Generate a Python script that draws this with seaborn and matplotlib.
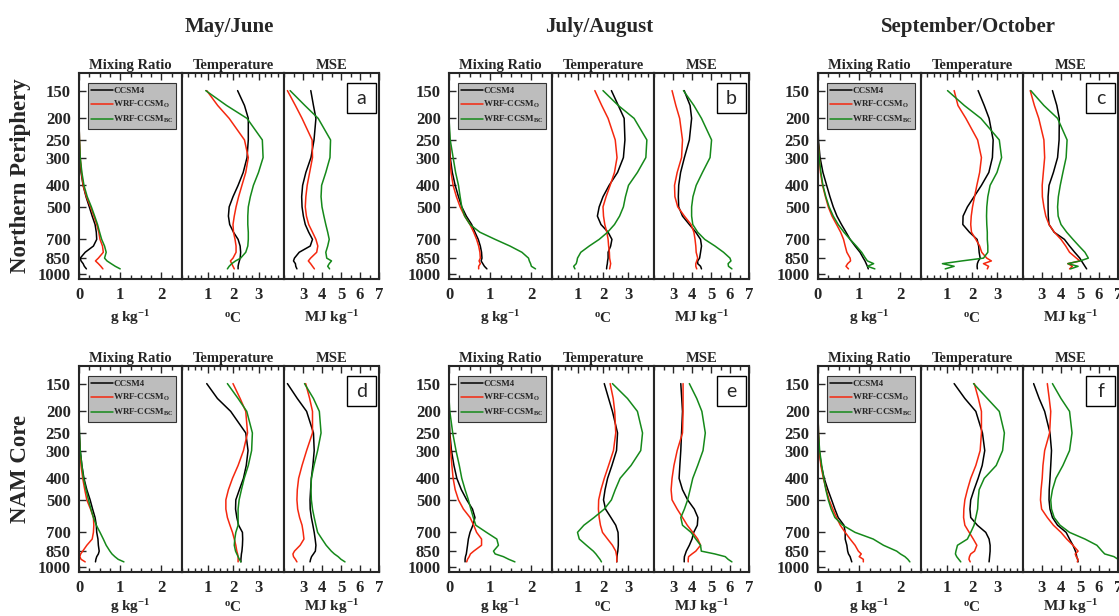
import matplotlib
matplotlib.use('Agg')
import matplotlib.pyplot as plt
import seaborn as sns
from matplotlib.patches import Rectangle
from matplotlib.ticker import MultipleLocator, NullLocator

sns.set_style('ticks')
plt.rcParams['font.family'] = ['Liberation Serif', 'DejaVu Serif']
plt.rcParams['font.weight'] = 'bold'
plt.rcParams['mathtext.fontset'] = 'custom'
plt.rcParams['mathtext.rm'] = 'Liberation Serif:bold'
plt.rcParams['mathtext.bf'] = 'Liberation Serif:bold'
plt.rcParams['mathtext.it'] = 'Liberation Serif:bold'
plt.rcParams['mathtext.default'] = 'rm'

# --- datos (niveles de presion, hPa) ---
LEV = [150, 175, 200, 250, 300, 350, 400, 450, 500, 550, 600, 650, 700, 750, 800, 850, 875, 900, 925, 950]
PTICKS = [150, 200, 250, 300, 400, 500, 700, 850, 1000]
SERIES = ['CCSM4', 'WRF-CCSM$_{O}$', 'WRF-CCSM$_{BC}$']
SEASONS = ['May/June', 'July/August', 'September/October']
REGIONS = ['Northern Periphery', 'NAM Core']
LETTERS = ['a', 'b', 'c', 'd', 'e', 'f']

# cada lista: [CCSM4, WRF-CCSM_O, WRF-CCSM_BC]
a_mix = [[0, 0, 0, 0.01, 0.02, 0.05, 0.1, 0.17, 0.25, 0.32, 0.39, 0.42, 0.43, 0.35, 0.15, 0.03, 0.05, 0.1, 0.13, 0.18],
         [0, 0, 0, 0.01, 0.03, 0.06, 0.1, 0.18, 0.28, 0.36, 0.43, 0.48, 0.51, 0.57, 0.59, 0.47, 0.40, 0.47, 0.53, 0.58],
         [0, 0, 0, 0.01, 0.03, 0.07, 0.12, 0.2, 0.3, 0.38, 0.45, 0.5, 0.55, 0.62, 0.66, 0.62, 0.68, 0.78, 0.88, 1.0]]
a_tmp = [[2.18, 2.45, 2.6, 2.6, 2.55, 2.4, 2.2, 2.0, 1.85, 1.82, 1.87, 2.02, 2.2, 2.28, 2.3, 2.28, 2.25, 2.22, 2.2, 2.2],
         [0.97, 1.4, 1.85, 2.45, 2.6, 2.5, 2.35, 2.22, 2.12, 2.05, 2.0, 2.02, 2.08, 2.12, 2.12, 2.0, 1.9, 1.95, 2.0, 2.05],
         [0.93, 1.75, 2.55, 3.15, 3.18, 3.0, 2.8, 2.68, 2.6, 2.58, 2.58, 2.6, 2.6, 2.58, 2.5, 2.3, 2.1, 1.95, 1.85, 1.78]]
a_mse = [[3.41, 3.55, 3.68, 3.58, 3.42, 3.15, 2.98, 2.93, 2.95, 3.02, 3.12, 3.3, 3.5, 3.38, 2.8, 2.55, 2.5, 2.6, 2.62, 2.68],
         [2.18, 2.6, 2.95, 3.48, 3.5, 3.35, 3.22, 3.15, 3.12, 3.18, 3.3, 3.5, 3.68, 3.78, 3.72, 3.4, 3.28, 3.4, 3.5, 3.6],
         [2.32, 3.1, 3.8, 4.45, 4.42, 4.2, 3.98, 3.95, 4.0, 4.1, 4.2, 4.3, 4.38, 4.3, 4.2, 4.25, 4.5, 4.38, 4.3, 4.4]]

b_mix = [[0, 0, 0, 0.01, 0.03, 0.08, 0.15, 0.23, 0.31, 0.42, 0.55, 0.63, 0.71, 0.76, 0.79, 0.8, 0.78, 0.82, 0.86, 0.92],
         [0, 0, 0, 0.01, 0.02, 0.05, 0.1, 0.18, 0.27, 0.38, 0.51, 0.6, 0.67, 0.72, 0.75, 0.76, 0.73, 0.76, 0.72, 0.72],
         [0, 0, 0, 0.03, 0.1, 0.16, 0.23, 0.27, 0.31, 0.38, 0.51, 0.75, 1.12, 1.48, 1.77, 1.93, 1.95, 1.98, 2.0, 2.1]]
b_tmp = [[2.33, 2.6, 2.83, 2.86, 2.8, 2.57, 2.24, 2.0, 1.85, 1.78, 1.92, 2.2, 2.35, 2.3, 2.2, 2.2, 2.18, 2.17, 2.15, 2.14],
         [1.68, 1.95, 2.2, 2.48, 2.55, 2.45, 2.28, 2.12, 2.0, 2.02, 2.07, 2.15, 2.2, 2.22, 2.25, 2.26, 2.28, 2.3, 2.28, 2.26],
         [2.0, 2.6, 3.22, 3.72, 3.68, 3.35, 3.0, 2.88, 2.8, 2.65, 2.45, 2.18, 1.85, 1.46, 1.13, 1.0, 0.98, 0.95, 0.85, 0.9]]
b_mse = [[3.59, 3.9, 3.98, 3.86, 3.6, 3.4, 3.3, 3.28, 3.3, 3.5, 3.86, 4.2, 4.45, 4.5, 4.45, 4.4, 4.3, 4.3, 4.45, 4.5],
         [2.95, 3.15, 3.35, 3.5, 3.45, 3.22, 3.08, 3.1, 3.25, 3.6, 3.95, 4.1, 4.16, 4.2, 4.22, 4.3, 4.25, 4.2, 4.2, 4.25],
         [3.55, 4.1, 4.5, 5.03, 4.95, 4.55, 4.22, 4.05, 3.98, 3.98, 4.04, 4.3, 4.67, 5.21, 5.66, 6.0, 6.05, 5.9, 5.92, 6.1]]

c_mix = [[0, 0, 0, 0.01, 0.05, 0.12, 0.21, 0.29, 0.37, 0.46, 0.57, 0.68, 0.78, 0.9, 1.02, 1.1, 1.14, 1.17, 1.2, 1.22],
         [0, 0, 0, 0, 0.03, 0.06, 0.11, 0.18, 0.25, 0.34, 0.45, 0.55, 0.62, 0.66, 0.7, 0.78, 0.79, 0.72, 0.68, 0.74],
         [0, 0, 0, 0, 0.03, 0.07, 0.12, 0.19, 0.27, 0.37, 0.49, 0.63, 0.78, 0.93, 1.06, 1.15, 1.2, 1.35, 1.2, 1.38]]
c_tmp = [[2.24, 2.48, 2.67, 2.83, 2.8, 2.66, 2.37, 2.08, 1.82, 1.65, 1.64, 1.9, 2.2, 2.26, 2.28, 2.32, 2.25, 2.21, 2.2, 2.21],
         [1.3, 1.45, 1.76, 2.22, 2.37, 2.3, 2.19, 2.1, 2.02, 1.97, 1.95, 1.98, 2.15, 2.3, 2.38, 2.58, 2.76, 2.45, 2.65, 2.6],
         [1.04, 1.7, 2.35, 3.07, 3.16, 2.98, 2.71, 2.62, 2.58, 2.57, 2.58, 2.6, 2.6, 2.62, 2.62, 2.45, 1.6, 0.84, 1.3, 0.95]]
c_mse = [[3.55, 3.78, 3.91, 3.9, 3.82, 3.6, 3.37, 3.32, 3.32, 3.33, 3.37, 3.64, 4.18, 4.45, 4.72, 4.99, 5.08, 5.17, 5.26, 5.35],
         [2.38, 2.6, 2.83, 3.1, 3.14, 3.07, 3.01, 3.02, 3.1, 3.2, 3.37, 3.65, 4.0, 4.25, 4.45, 4.81, 5.0, 4.36, 4.6, 4.45],
         [2.41, 3.1, 3.82, 4.32, 4.27, 4.1, 3.96, 3.86, 3.82, 3.85, 4.0, 4.3, 4.63, 4.95, 5.26, 5.44, 5.0, 4.36, 4.9, 4.5]]

d_mix = [[0, 0, 0, 0.01, 0.03, 0.07, 0.12, 0.19, 0.27, 0.33, 0.39, 0.42, 0.43, 0.46, 0.47, 0.49, 0.47, 0.43, 0.41, 0.4],
         [0, 0, 0, 0, 0.02, 0.05, 0.09, 0.14, 0.19, 0.28, 0.35, 0.36, 0.35, 0.32, 0.19, 0.09, 0.04, 0.02, 0.05, 0.15],
         [0, 0, 0, 0.01, 0.03, 0.07, 0.11, 0.17, 0.23, 0.29, 0.35, 0.42, 0.51, 0.59, 0.66, 0.75, 0.8, 0.87, 0.95, 1.09]]
d_tmp = [[0.97, 1.39, 1.91, 2.5, 2.59, 2.52, 2.41, 2.25, 2.11, 2.1, 2.15, 2.22, 2.37, 2.38, 2.37, 2.35, 2.33, 2.32, 2.31, 2.31],
         [2.0, 2.28, 2.5, 2.57, 2.41, 2.2, 1.98, 1.82, 1.72, 1.72, 1.78, 1.88, 1.98, 2.05, 2.11, 2.15, 2.18, 2.2, 2.2, 2.2],
         [1.78, 2.2, 2.54, 2.76, 2.73, 2.6, 2.44, 2.33, 2.24, 2.2, 2.2, 2.2, 2.11, 2.07, 2.05, 2.1, 2.15, 2.2, 2.25, 2.31]]
d_mse = [[2.18, 2.7, 3.19, 3.55, 3.59, 3.52, 3.44, 3.4, 3.37, 3.38, 3.44, 3.52, 3.59, 3.64, 3.68, 3.65, 3.55, 3.45, 3.4, 3.37],
         [3.14, 3.35, 3.5, 3.5, 3.19, 2.95, 2.77, 2.7, 2.68, 2.72, 2.82, 2.95, 3.01, 3.05, 2.85, 2.55, 2.47, 2.5, 2.6, 2.68],
         [3.08, 3.55, 3.86, 3.95, 3.77, 3.58, 3.44, 3.42, 3.44, 3.5, 3.59, 3.68, 3.77, 4.0, 4.22, 4.49, 4.65, 4.85, 5.0, 5.21]]

e_mix = [[0, 0, 0, 0.02, 0.06, 0.12, 0.19, 0.3, 0.43, 0.57, 0.63, 0.58, 0.51, 0.47, 0.45, 0.43, 0.42, 0.4, 0.39, 0.39],
         [0, 0, 0, 0.01, 0.04, 0.07, 0.1, 0.15, 0.23, 0.35, 0.51, 0.6, 0.67, 0.79, 0.79, 0.6, 0.52, 0.49, 0.45, 0.43],
         [0, 0, 0.02, 0.09, 0.17, 0.25, 0.31, 0.39, 0.47, 0.53, 0.59, 0.65, 0.91, 1.16, 1.2, 1.08, 1.12, 1.32, 1.45, 1.6]]
e_tmp = [[2.05, 2.22, 2.37, 2.57, 2.53, 2.35, 2.18, 2.08, 2.02, 2.1, 2.31, 2.5, 2.59, 2.6, 2.6, 2.58, 2.56, 2.55, 2.54, 2.54],
         [2.28, 2.4, 2.46, 2.5, 2.41, 2.22, 2.05, 1.92, 1.83, 1.82, 1.85, 1.9, 1.98, 2.18, 2.37, 2.5, 2.52, 2.54, 2.54, 2.54],
         [2.37, 2.96, 3.35, 3.55, 3.48, 3.1, 2.67, 2.48, 2.33, 2.05, 1.65, 1.25, 1.0, 1.07, 1.35, 1.62, 1.72, 1.8, 1.88, 1.94]]
e_mse = [[3.41, 3.46, 3.5, 3.45, 3.41, 3.36, 3.32, 3.5, 3.77, 4.12, 4.31, 4.28, 4.09, 4.0, 3.86, 3.7, 3.65, 3.6, 3.59, 3.59],
         [3.53, 3.53, 3.53, 3.5, 3.22, 3.05, 2.95, 2.9, 2.95, 3.22, 3.5, 3.75, 4.04, 4.3, 4.45, 4.2, 4.0, 3.82, 3.8, 3.8],
         [3.86, 4.25, 4.52, 4.7, 4.58, 4.3, 4.04, 3.9, 3.77, 3.6, 3.41, 3.5, 3.95, 4.2, 4.45, 4.49, 5.2, 5.75, 5.9, 6.1]]

f_mix = [[0, 0, 0, 0.01, 0.03, 0.08, 0.15, 0.24, 0.33, 0.41, 0.49, 0.63, 0.66, 0.66, 0.7, 0.72, 0.74, 0.78, 0.8, 0.82],
         [0, 0, 0, 0.01, 0.03, 0.07, 0.13, 0.2, 0.27, 0.36, 0.45, 0.54, 0.66, 0.78, 0.9, 0.98, 1.05, 1.0, 1.1, 1.1],
         [0, 0, 0, 0.01, 0.04, 0.09, 0.14, 0.19, 0.25, 0.32, 0.41, 0.6, 0.9, 1.34, 1.59, 1.91, 2.0, 2.11, 2.18, 2.23]]
f_tmp = [[1.3, 1.72, 2.15, 2.41, 2.5, 2.4, 2.24, 2.08, 1.95, 1.92, 1.95, 2.21, 2.54, 2.67, 2.71, 2.71, 2.7, 2.69, 2.68, 2.67],
         [2.09, 2.25, 2.37, 2.37, 2.32, 2.15, 1.95, 1.82, 1.72, 1.68, 1.67, 1.72, 1.89, 2.05, 2.19, 2.1, 1.95, 1.9, 1.88, 1.93],
         [2.06, 2.6, 3.07, 3.27, 3.2, 2.95, 2.48, 2.28, 2.24, 2.22, 2.15, 2.08, 1.95, 1.82, 1.43, 1.37, 1.35, 1.4, 1.48, 1.56]]
f_mse = [[2.56, 2.85, 3.14, 3.42, 3.5, 3.46, 3.42, 3.38, 3.37, 3.42, 3.55, 3.82, 4.27, 4.45, 4.63, 4.76, 4.8, 4.83, 4.87, 4.9],
         [3.28, 3.38, 3.46, 3.4, 3.14, 3.05, 3.01, 2.95, 2.92, 2.98, 3.28, 3.6, 4.0, 4.3, 4.63, 4.9, 4.75, 4.8, 4.9, 4.86],
         [3.55, 4.0, 4.45, 4.58, 4.45, 4.1, 3.73, 3.55, 3.46, 3.5, 3.64, 3.95, 4.45, 5.26, 5.89, 6.16, 6.3, 6.79, 7.0, 7.2]]

PANELS = [(a_mix, a_tmp, a_mse), (b_mix, b_tmp, b_mse), (c_mix, c_tmp, c_mse),
          (d_mix, d_tmp, d_mse), (e_mix, e_tmp, e_mse), (f_mix, f_tmp, f_mse)]

COLORS = ['#000000', '#f5280f', '#15891a']

# configuracion de cada sub-panel: titulo, unidad, limites, ticks mayores, paso menor
VARS = [('Mixing Ratio', 'g kg$^{-1}$', (0, 2.5), [0, 1, 2], 0.25),
        ('Temperature', '$^{o}$C', (0, 4), [1, 2, 3], 0.25),
        ('MSE', 'MJ kg$^{-1}$', (2, 7), [3, 4, 5, 6, 7], 0.5)]

# --- geometria en pixeles ---
W, H = 1119, 616
fig = plt.figure(figsize=(W / 100, H / 100), dpi=100)

group_left = [79, 449, 818]
row_top = [73, 366]
AX_H = 206
sub_edges = [0, 103, 205, 300]
xlabel_off = [39, 35]


def px_axes(x0, x1, y0, y1):
    return fig.add_axes([x0 / W, 1 - y1 / H, (x1 - x0) / W, (y1 - y0) / H])


for idx, panel in enumerate(PANELS):
    r, g = divmod(idx, 3)
    top = row_top[r]
    bot = top + AX_H
    for k, vals in enumerate(panel):
        title, unit, xlim, xt, minor = VARS[k]
        x0 = group_left[g] + sub_edges[k]
        x1 = group_left[g] + sub_edges[k + 1]
        ax = px_axes(x0, x1, top, bot)
        for s in range(3):
            sns.lineplot(x=vals[s], y=LEV, ax=ax, color=COLORS[s], lw=1.1,
                         sort=False, estimator=None, orient='y')
        ax.set_yscale('log')
        ax.set_ylim(1055, 125)
        ax.set_xlim(*xlim)
        ax.set_xticks(xt)
        ax.xaxis.set_minor_locator(MultipleLocator(minor))
        ax.tick_params(axis='x', which='both', direction='in', top=True, bottom=True,
                       width=1.0, labelsize=12, pad=6)
        ax.tick_params(axis='x', which='major', length=5)
        ax.tick_params(axis='x', which='minor', length=3)
        ax.set_yticks(PTICKS)
        ax.set_yticklabels([str(p) for p in PTICKS])
        ax.yaxis.set_minor_locator(NullLocator())
        if k == 0:
            ax.tick_params(axis='y', direction='in', length=5, width=1.0, labelsize=12, pad=6)
        else:
            ax.tick_params(axis='y', left=False, labelleft=False)
        ax.set_xlabel('')
        ax.set_ylabel('')
        for sp in ax.spines.values():
            sp.set_linewidth(1.5)
        ax.set_title(title, fontsize=10.5, fontweight='bold', pad=3)
        fig.text((x0 + x1) / 2 / W, 1 - (bot + xlabel_off[r]) / H, unit,
                 ha='center', va='center', fontsize=11, fontweight='bold')

        if k == 0:
            handles = ax.get_lines()[:3]
            leg = ax.legend(handles, SERIES, loc='upper left', mode='expand',
                            bbox_to_anchor=(0.085, 0.6, 0.857, 0.352),
                            fontsize=6.5, frameon=True, fancybox=False,
                            handlelength=2.4, handletextpad=0.0, labelspacing=0.45,
                            borderpad=0.4, borderaxespad=0)
            fr = leg.get_frame()
            fr.set_facecolor('#bdbdbd')
            fr.set_edgecolor('#333333')
            fr.set_linewidth(0.8)
            fr.set_alpha(1)
        if k == 2:
            ax.add_patch(Rectangle((0.663, 0.806), 0.305, 0.145, transform=ax.transAxes,
                                   facecolor='white', edgecolor='black', lw=1.0, zorder=5))
            ax.text(0.8155, 0.878, LETTERS[idx], transform=ax.transAxes, ha='center',
                    va='center', fontsize=14, fontweight='normal', family='Lato', zorder=6)

# titulos de columnas y filas
for g, season in enumerate(SEASONS):
    fig.text((group_left[g] + 150) / W, 1 - 27 / H, season, ha='center', va='center',
             fontsize=15, fontweight='bold')
for r, region in enumerate(REGIONS):
    fig.text(21 / W, 1 - (row_top[r] + AX_H / 2) / H, region, rotation=90,
             ha='center', va='center', fontsize=16.5, fontweight='bold')

fig.savefig('out.png', dpi=100)
